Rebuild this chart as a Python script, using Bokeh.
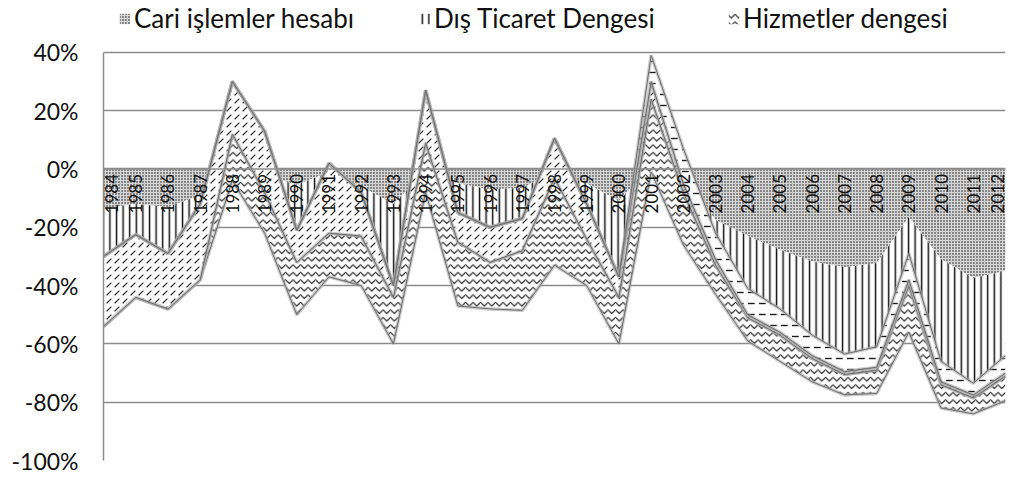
import math
from bokeh.plotting import figure
from bokeh.models import (ColumnDataSource, Range1d, FixedTicker, PrintfTickFormatter,
                          Legend, LegendItem, Span, LabelSet, BoxAnnotation)
from bokeh.transform import stack
from bokeh.core.properties import value
from bokeh.embed import file_html
from bokeh.resources import INLINE

# ---------------- data (% values, Excel-style stacked) ----------------
years = list(range(1984, 2013))
year_labels = [str(y) for y in years]

cari_islemler = [-13.5, -12, -13, -9, -1, -2, -5.5, -1, -6, -12, -1, -5, -7, -6.5, -1,
                 -5, -11, 1, -3, -17.5, -23, -27.7, -31.7, -33.7, -32.3, -16.5, -31, -37.4, -35]
dis_ticaret = [-40.5, -32, -35, -29, -3, -20, -44.5, -36, -34, -48, -7, -42, -41, -42, -32,
               -35, -49, -2, -23, -25.5, -36, -38.3, -41.3, -43.8, -44.7, -39.5, -51, -46.6, -44.5]
hizmetler = [0, 0, 0, 0, 16, 14, 18, 15, 17, 16, 17, 22, 16, 20.5, 30,
             16, 16, 25, 18, 10, 8, 9, 8, 7, 8, 16, 8, 5.5, 8.5]
gelir = [24, 21.5, 19, 26, 18, 21, 11, 24, 15, 4, 18, 10, 12, 11, 13.5,
         12, 7, 6, 3, 2, 1, 1, 1, 1, 1, 2, 1, 1, 1]
transferler = [0, 0, 0, 0, 0, 0, 0, 0, 0, 0, 0, 0, 0, 0, 0,
               0, 0, 9, 12, 9, 9, 8, 7, 6, 7, 9, 7, 4, 6]

y_ticks = [40, 20, 0, -20, -40, -60, -80, -100]
legend_names = ["Cari işlemler hesabı", "Dış Ticaret Dengesi", "Hizmetler dengesi"]

# small pixel nudges so the first / last category label is not cut by the plot frame
label_nudge = [8] + [0] * 27 + [-8]

src = ColumnDataSource(dict(year=years, lab=year_labels, cari=cari_islemler, dis=dis_ticaret,
                            hiz=hizmetler, gel=gelir, tr=transferler, nudge=label_nudge))

FONT = "Lato"

# frame reaches the top of the canvas so the legend can sit inside it, above the 40% line
p = figure(width=1016, height=476, output_backend="svg", toolbar_location=None,
           x_range=Range1d(1984, 2012), y_range=Range1d(-100, 57.8),
           min_border_left=103, min_border_right=11, min_border_top=0, min_border_bottom=16,
           background_fill_color="white", border_fill_color="white")
p.outline_line_color = None
p.xaxis.visible = False
p.xgrid.visible = False
p.ygrid.grid_line_color = "#8c8c8c"
p.ygrid.grid_line_width = 1.5
p.yaxis.ticker = FixedTicker(ticks=y_ticks)
p.yaxis.bounds = (-100, 40)
p.yaxis.formatter = PrintfTickFormatter(format="%d%%")
p.yaxis.major_label_text_font = FONT
p.yaxis.major_label_text_font_size = "23px"
p.yaxis.major_label_text_color = "#111111"
p.yaxis.major_tick_line_color = None
p.yaxis.minor_tick_line_color = None
p.yaxis.axis_line_color = "#8c8c8c"
p.yaxis.axis_line_width = 1.5
p.yaxis.major_label_standoff = 19

# outer chart-area frame (left and bottom edges are visible in the original)
p.add_layout(BoxAnnotation(left=5, right=1030, top=-5, bottom=474,
                           left_units="canvas", right_units="canvas",
                           top_units="canvas", bottom_units="canvas",
                           fill_alpha=0, line_color="#8c8c8c", line_width=1.5))

fields = ["cari", "dis", "hiz", "gel", "tr"]
styles = [
    dict(hatch_pattern="dot", hatch_scale=3.0, hatch_weight=1.3, hatch_color="#111111", fill_color="#d6d6d6"),
    dict(hatch_pattern="vertical_line", hatch_scale=6.6, hatch_weight=1.5, hatch_color="#111111", fill_color="white"),
    dict(hatch_pattern="horizontal_wave", hatch_scale=7.5, hatch_weight=1.1, hatch_color="#1a1a1a", fill_color="white"),
    dict(hatch_pattern="right_diagonal_dash", hatch_scale=8, hatch_weight=1.1, hatch_color="#1a1a1a", fill_color="white"),
    dict(hatch_pattern="horizontal_dash", hatch_scale=11, hatch_weight=1.4, hatch_color="#1a1a1a", fill_color="white"),
]

renderers = []
for i, f in enumerate(fields):
    y1 = 0 if i == 0 else stack(*fields[:i])
    y2 = stack(*fields[:i + 1])
    r = p.varea(x="year", y1=y1, y2=y2, source=src, **styles[i])
    renderers.append(r)
    if i >= 2:
        for yy in (stack(*fields[:i]), y2):
            p.line(x="year", y=yy, source=src, line_color="#a8a8a8", line_width=3.5, line_alpha=0.6)
            p.line(x="year", y=yy, source=src, line_color="#6e6e6e", line_width=1)
    if i == 0:
        p.add_layout(Span(location=0, dimension="width", line_color="#8c8c8c", line_width=1.5, level="glyph"))

# category labels at the zero line, rotated
p.add_layout(LabelSet(x="year", y=0, text="lab", source=src, angle=math.pi / 2,
                      x_offset="nudge", text_align="right", text_baseline="middle", y_offset=-5,
                      text_font=value(FONT), text_font_size="17px", text_color="#111111"))

# legend items above the 40% line
leg_x = [15, 315, 624]
for n, r, lx in zip(legend_names, renderers[:3], leg_x):
    lg = Legend(items=[LegendItem(label=n, renderers=[r])], location=(lx, 426),
                orientation="horizontal", padding=0, margin=0, spacing=0,
                border_line_color=None, background_fill_alpha=0,
                glyph_width=13, glyph_height=13, label_standoff=3,
                label_text_font=FONT, label_text_font_size="26px", label_text_color="#111111")
    p.add_layout(lg, "center")

open("out.html", "w").write(file_html(p, INLINE))
